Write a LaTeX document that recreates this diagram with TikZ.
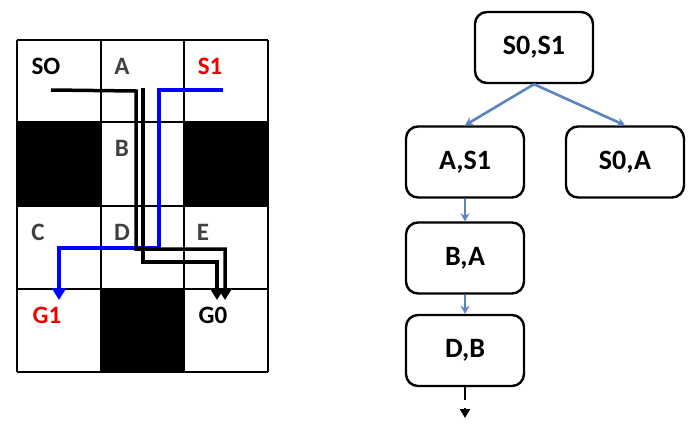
\documentclass[tikz,border=0pt]{standalone}
\usepackage{fontspec}
\setmainfont{Carlito}
\usetikzlibrary{arrows.meta}
\definecolor{lblgray}{HTML}{404040}
\definecolor{lblred}{HTML}{F00000}
\definecolor{edgeblue}{HTML}{5A85BE}
\begin{document}
\begin{tikzpicture}[x=1pt,y=-1pt,
  cell/.style={draw=black,line width=1.6pt},
  blk/.style={fill=black},
  glabel/.style={font=\fontsize{25}{27}\selectfont\bfseries},
  tbox/.style={draw=black,line width=2.4pt,rounded corners=12pt,minimum width=118pt,minimum height=71pt,font=\fontsize{28}{30}\selectfont\bfseries,inner sep=0pt},
  tedge/.style={draw=edgeblue,line width=2.6pt,-{Stealth[length=8pt,width=9pt]}},
  pathblk/.style={draw=black,line width=3.5pt,-{Triangle[length=12pt,width=14pt]}},
  pathblue/.style={draw=blue,line width=3.5pt,-{Triangle[length=12pt,width=14pt]}}
]
\useasboundingbox (0,0) rectangle (697,440);
% black cells
\fill[blk] (17,122) rectangle (101,206);
\fill[blk] (184,122) rectangle (268,206);
\fill[blk] (101,289) rectangle (184,372);
% grid
\foreach \x in {17,101,184,268} \draw[cell] (\x,40) -- (\x,372);
\foreach \y in {40,122,206,289,372} \draw[cell] (17,\y) -- (268,\y);
% labels
\node[glabel,text=black] (lSO) at (46,66) {SO};
\node[glabel,text=lblgray] (lA) at (122,66) {A};
\node[glabel,text=lblred] (lS1) at (210,66) {S1};
\node[glabel,text=lblgray] (lB) at (122,148) {B};
\node[glabel,text=lblgray] (lC) at (38,232) {C};
\node[glabel,text=lblgray] (lD) at (122,232) {D};
\node[glabel,text=lblgray] (lE) at (203,232) {E};
\node[glabel,text=lblred] (lG1) at (47,315) {G1};
\node[glabel,text=black] (lG0) at (213,315) {G0};
% paths
\coordinate (p1s) at (51,90);
\coordinate (p1e) at (225,300);
\coordinate (p2s) at (143,88);
\coordinate (p2e) at (217,300);
\coordinate (pbs) at (223,90);
\coordinate (pbe) at (59,300);
\draw[pathblue] (pbs) -- (159,90) -- (159,248) -- (59,248) -- (pbe);
\draw[pathblk] (p1s) -- (136,91) -- (136,249) -- (225,249) -- (p1e);
\draw[pathblk] (p2s) -- (143,262) -- (217,262) -- (p2e);
% tree
\node[tbox] (t0) at (534,47.5) {S0,S1};
\node[tbox] (t1) at (465,162) {A,S1};
\node[tbox] (t2) at (625,162) {S0,A};
\node[tbox] (t3) at (465,258) {B,A};
\node[tbox] (t4) at (465,350.5) {D,B};
\coordinate (tend) at (465,418);
\draw[tedge] (t0.south) -- (t1.north);
\draw[tedge] (t0.south) -- (t2.north);
\draw[tedge] (t1.south) -- (t3.north);
\draw[tedge] (t3.south) -- (t4.north);
\draw[black,line width=2.4pt,dash pattern=on 13pt off 8pt,-{Triangle[length=9pt,width=10pt]}] (t4.south) -- (tend);
\end{tikzpicture}
\end{document}
